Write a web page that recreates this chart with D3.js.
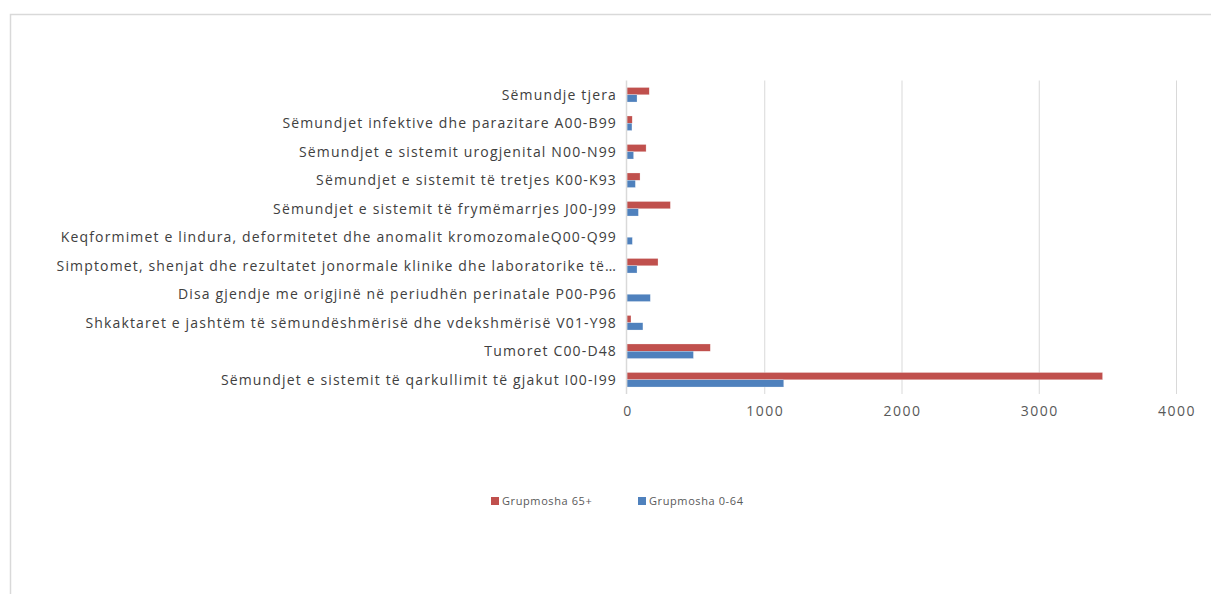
<!DOCTYPE html>
<html>
<head>
<meta charset="utf-8">
<script src="https://cdn.jsdelivr.net/npm/d3@7"></script>
<style>
  body { margin: 0; background: #ffffff; }
  svg { display: block; }
</style>
</head>
<body>
<div class="main"></div>
<script>
// categories, top to bottom as shown
const categories = [
  "Sëmundje tjera",
  "Sëmundjet infektive dhe parazitare A00-B99",
  "Sëmundjet e sistemit urogjenital N00-N99",
  "Sëmundjet e sistemit të tretjes K00-K93",
  "Sëmundjet e sistemit të frymëmarrjes J00-J99",
  "Keqformimet e lindura, deformitetet dhe anomalit kromozomaleQ00-Q99",
  "Simptomet, shenjat dhe rezultatet jonormale klinike dhe laboratorike të…",
  "Disa gjendje me origjinë në periudhën perinatale P00-P96",
  "Shkaktaret e jashtëm të sëmundëshmërisë dhe vdekshmërisë V01-Y98",
  "Tumoret C00-D48",
  "Sëmundjet e sistemit të qarkullimit të gjakut I00-I99"
];
const seriesNames = ["Grupmosha 65+", "Grupmosha 0-64"];
const values65 = [162, 38, 139, 95, 316, 0, 226, 0, 29, 607, 3465];
const values064 = [73, 36, 48, 61, 83, 39, 73, 170, 116, 484, 1142];
const xTicks = [0, 1000, 2000, 3000, 4000];
const colors = ["#C0504D", "#4F81BD"];

let width = 1211, height = 594;
let font = "'Open Sans', 'Noto Sans', sans-serif";

let svg = d3.select("div.main").append("svg")
  .attr("width", width)
  .attr("height", height);

// chart frame (only top and left edges visible)
svg.append("rect")
  .attr("x", 10.5)
  .attr("y", 14.5)
  .attr("width", width + 20)
  .attr("height", height + 20)
  .attr("fill", "none")
  .attr("stroke", "#d9d9d9")
  .attr("stroke-width", 1.5);

let plot = { left: 627, right: 1176, top: 80.5, bottom: 394 };

let x = d3.scaleLinear()
  .domain([0, 4000])
  .range([plot.left, plot.right]);

let y = d3.scaleBand()
  .domain(categories)
  .range([plot.top, plot.bottom])
  .paddingInner(0.49)
  .paddingOuter(0.245);

let ySub = d3.scaleBand()
  .domain(seriesNames)
  .range([0, y.bandwidth()]);

// gridlines
svg.append("g")
  .selectAll("line")
  .data(xTicks.slice(1))
  .enter().append("line")
    .attr("x1", d => x(d) + 0.5)
    .attr("x2", d => x(d) + 0.5)
    .attr("y1", plot.top)
    .attr("y2", plot.bottom)
    .attr("stroke", "#d9d9d9")
    .attr("stroke-width", 1);

// tick labels
svg.append("g")
  .selectAll("text")
  .data(xTicks)
  .enter().append("text")
    .attr("x", d => x(d) + 1)
    .attr("y", 416)
    .attr("text-anchor", "middle")
    .attr("font-family", font)
    .attr("font-size", 14)
    .attr("letter-spacing", 1.5)
    .attr("fill", "#595959")
    .text(d => d);

// bars
let rows = categories.map((c, i) => ({ cat: c, vals: [values65[i], values064[i]] }));

let groups = svg.append("g")
  .selectAll("g")
  .data(rows)
  .enter().append("g")
    .attr("transform", d => "translate(0," + y(d.cat) + ")");

groups.selectAll("rect")
  .data(d => d.vals.map((v, k) => ({ name: seriesNames[k], v: v, k: k })))
  .enter().append("rect")
    .attr("x", x(0))
    .attr("y", d => ySub(d.name))
    .attr("width", d => Math.max(0, x(d.v) - x(0)))
    .attr("height", ySub.bandwidth())
    .attr("fill", d => colors[d.k])
    .attr("stroke", "#ffffff")
    .attr("stroke-opacity", 0.5)
    .attr("stroke-width", 0.5);

// category axis line
svg.append("line")
  .attr("x1", x(0) - 0.5)
  .attr("x2", x(0) - 0.5)
  .attr("y1", plot.top)
  .attr("y2", plot.bottom)
  .attr("stroke", "#d9d9d9")
  .attr("stroke-width", 1.5);

// category labels (the source spaces its letters out a bit)
svg.append("g")
  .selectAll("text")
  .data(categories)
  .enter().append("text")
    .attr("x", 617)
    .attr("y", d => y(d) + y.bandwidth() / 2)
    .attr("dy", "0.35em")
    .attr("text-anchor", "end")
    .attr("font-family", font)
    .attr("font-size", 14)
    .attr("letter-spacing", 1.15)
    .attr("fill", "#404040")
    .text(d => d);

// legend
let legendX = [491, 638];
let legend = svg.append("g")
  .selectAll("g")
  .data(seriesNames)
  .enter().append("g")
    .attr("transform", (d, i) => "translate(" + legendX[i] + ",497)");

legend.append("rect")
  .attr("width", 8)
  .attr("height", 8)
  .attr("fill", (d, i) => colors[i]);

legend.append("text")
  .attr("x", 11)
  .attr("y", 4)
  .attr("dy", "0.35em")
  .attr("font-family", font)
  .attr("font-size", 11)
  .attr("letter-spacing", 0.6)
  .attr("fill", "#595959")
  .text(d => d);
</script>
</body>
</html>
